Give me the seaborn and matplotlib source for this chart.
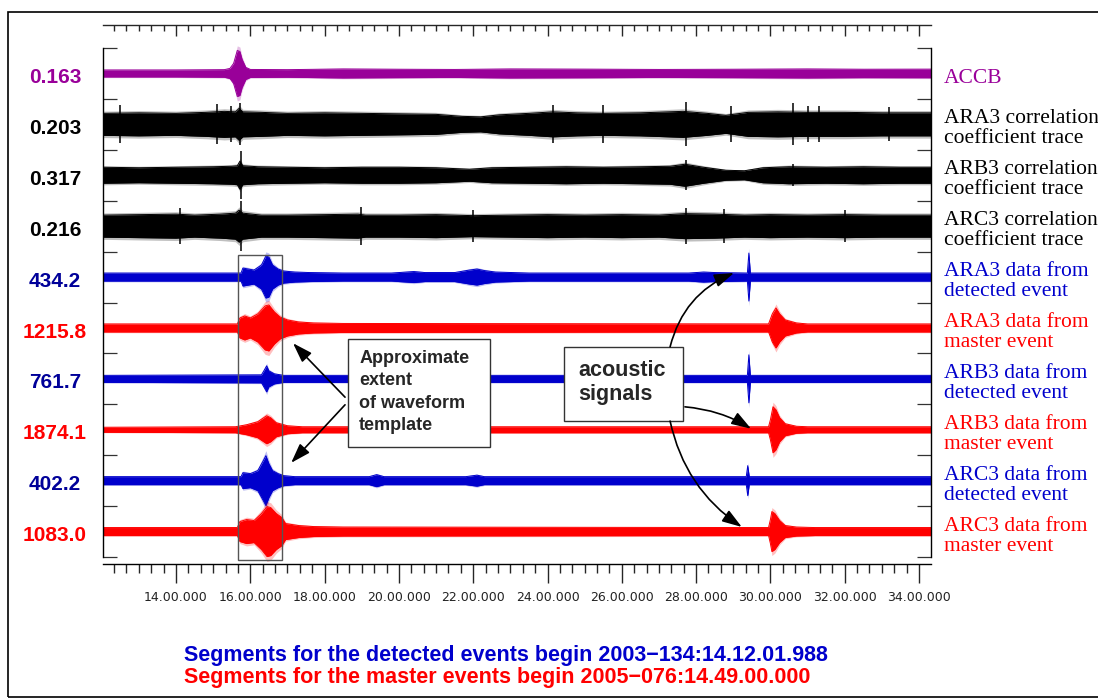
import numpy as np
import matplotlib
matplotlib.use("Agg")
import matplotlib.pyplot as plt
import matplotlib.transforms as mtransforms
from matplotlib.patches import Rectangle
import seaborn as sns

# ---------------------------------------------------------------------------
# Data: time in minutes past the hour, envelope half-amplitudes in display units
# ---------------------------------------------------------------------------
t_start, t_end = 12.035, 34.323

accb_t = [t_start, 14.0, 15.3, 15.45, 15.55, 15.65, 15.72, 15.78, 15.88, 16.0, 17.0, 18.5,
          20.0, 21.5, 23.0, 25.0, 27.0, 29.0, 31.0, 32.5, t_end]
accb_a = [3.5, 3.5, 3.8, 5.0, 10.0, 23.0, 22.0, 14.0, 6.0, 4.0, 3.8, 4.5,
          4.2, 4.0, 4.5, 4.3, 4.0, 4.2, 4.5, 4.2, 4.3]

ara3c_t = [t_start, 13.0, 14.0, 14.8, 15.3, 15.6, 15.7, 15.8, 16.3, 17.0, 18.0, 19.0, 20.0,
           21.0, 21.7, 22.2, 22.7, 23.5, 24.15, 24.8, 25.5, 26.5, 27.65, 28.3, 28.8, 29.4,
           30.2, 31.0, 32.0, 33.0, t_end]
ara3c_a = [11.0, 11.5, 11.0, 12.0, 13.0, 12.5, 16.0, 12.5, 12.0, 11.0, 11.5, 11.0, 10.5,
           10.0, 8.0, 7.5, 9.5, 11.0, 12.5, 11.5, 11.0, 11.5, 13.0, 11.0, 9.0, 12.0,
           12.5, 12.0, 12.0, 11.5, 11.5]
ara3c_spike_t = [12.5, 15.1, 15.47, 15.72, 24.15, 25.5, 27.73, 28.95, 30.6, 31.0, 31.3, 33.2]
ara3c_spike_a = [19.0, 20.0, 18.0, 21.0, 19.0, 19.0, 22.0, 18.0, 21.0, 18.0, 18.0, 17.0]

arb3c_t = [t_start, 13.0, 14.0, 15.0, 15.5, 15.65, 15.72, 15.8, 16.2, 17.0, 18.0, 19.0, 20.0,
           21.0, 21.9, 22.5, 23.5, 24.5, 25.5, 26.5, 27.3, 27.7, 28.2, 28.8, 29.3, 29.8,
           30.5, 31.5, 32.5, 33.5, t_end]
arb3c_a = [8.0, 7.5, 8.0, 8.5, 9.0, 9.5, 14.0, 9.5, 8.5, 8.0, 7.5, 8.0, 8.0,
           7.5, 6.0, 7.5, 8.0, 8.5, 8.0, 8.5, 9.0, 11.0, 8.0, 5.0, 4.5, 7.5,
           8.5, 8.0, 8.5, 8.0, 8.0]
arb3c_spike_t = [15.75, 27.73, 30.6]
arb3c_spike_a = [24.0, 15.0, 11.0]

arc3c_t = [t_start, 13.0, 14.0, 14.5, 15.2, 15.6, 15.7, 15.8, 16.3, 17.0, 18.0, 18.9, 19.1,
           20.0, 21.0, 22.0, 23.0, 24.0, 25.0, 26.0, 27.0, 27.7, 28.5, 29.3, 30.0, 31.0,
           32.0, 33.0, t_end]
arc3c_a = [11.0, 11.5, 12.0, 11.0, 12.0, 13.0, 16.0, 13.0, 11.0, 11.0, 11.5, 12.0, 11.0,
           11.0, 11.5, 10.5, 11.0, 11.5, 11.0, 11.5, 11.0, 12.5, 12.0, 11.0, 11.5, 11.0,
           11.5, 11.0, 11.0]
arc3c_spike_t = [14.1, 15.75, 18.98, 22.0, 27.73, 28.75, 32.0]
arc3c_spike_a = [18.0, 25.0, 19.0, 16.0, 18.0, 17.0, 16.0]

ara3d_t = [t_start, 15.75, 15.8, 15.95, 16.1, 16.3, 16.42, 16.5, 16.6, 16.75, 16.9, 17.2,
           17.6, 18.5, 19.8, 20.4, 20.7, 21.5, 21.9, 22.1, 22.3, 22.6, 23.5, 27.8, 28.2,
           28.5, 29.38, 29.42, 29.46, t_end]
ara3d_a = [4.0, 4.0, 9.0, 8.0, 7.0, 12.0, 21.0, 20.0, 12.0, 8.0, 6.0, 5.0,
           4.5, 4.0, 4.0, 5.5, 4.5, 4.5, 7.0, 8.0, 6.5, 5.0, 4.0, 4.0, 5.0,
           4.5, 4.0, 24.0, 4.0, 4.0]

ara3m_t = [t_start, 15.65, 15.72, 15.85, 16.0, 16.2, 16.4, 16.5, 16.65, 16.8, 17.0, 17.3,
           17.7, 18.5, 29.95, 30.05, 30.15, 30.25, 30.4, 30.7, 31.0, t_end]
ara3m_a = [4.0, 4.0, 10.0, 12.0, 10.0, 14.0, 22.0, 23.0, 16.0, 11.0, 8.0, 6.0,
           5.0, 4.5, 4.0, 14.0, 20.0, 14.0, 8.0, 5.0, 4.0, 4.0]

arb3d_t = [t_start, 16.3, 16.38, 16.44, 16.5, 16.65, 16.9, 29.38, 29.42, 29.46, t_end]
arb3d_a = [3.5, 4.0, 9.0, 13.0, 8.0, 5.0, 3.5, 3.5, 24.0, 3.5, 3.5]

arb3m_t = [t_start, 15.6, 15.9, 16.2, 16.44, 16.55, 16.7, 17.0, 17.4, 29.95, 30.0, 30.07,
           30.15, 30.25, 30.4, 30.7, 31.0, t_end]
arb3m_a = [2.5, 3.0, 5.0, 8.0, 14.0, 12.0, 7.0, 4.0, 3.0, 3.0, 10.0, 23.0,
           20.0, 12.0, 6.0, 3.5, 3.0, 3.0]

arc3d_t = [t_start, 15.75, 15.8, 16.0, 16.2, 16.35, 16.42, 16.5, 16.6, 16.75, 16.9, 17.2,
           19.2, 19.4, 19.6, 21.8, 22.1, 22.3, 29.35, 29.39, 29.43, t_end]
arc3d_a = [4.0, 4.0, 8.0, 7.0, 10.0, 20.0, 25.0, 17.0, 10.0, 7.0, 5.0, 4.0,
           4.0, 6.0, 4.0, 4.0, 5.5, 4.0, 4.0, 15.0, 4.0, 4.0]

arc3m_t = [t_start, 15.65, 15.72, 15.9, 16.1, 16.3, 16.45, 16.55, 16.7, 16.85, 16.95, 17.3,
           17.7, 18.5, 29.95, 30.0, 30.04, 30.12, 30.25, 30.4, 30.7, 31.2, t_end]
arc3m_a = [4.0, 4.0, 10.0, 12.0, 11.0, 18.0, 25.0, 24.0, 18.0, 14.0, 8.0, 6.0,
           5.0, 4.5, 4.0, 12.0, 20.0, 18.0, 11.0, 6.0, 4.5, 4.0, 4.0]

trace_times = [accb_t, ara3c_t, arb3c_t, arc3c_t, ara3d_t, ara3m_t, arb3d_t, arb3m_t,
               arc3d_t, arc3m_t]
trace_amps = [accb_a, ara3c_a, arb3c_a, arc3c_a, ara3d_a, ara3m_a, arb3d_a, arb3m_a,
              arc3d_a, arc3m_a]
# isolated excursions on the correlation traces (row index -> times, half-amplitudes)
spike_rows = {1: (ara3c_spike_t, ara3c_spike_a),
              2: (arb3c_spike_t, arb3c_spike_a),
              3: (arc3c_spike_t, arc3c_spike_a)}

peak_values = ["0.163", "0.203", "0.317", "0.216", "434.2", "1215.8", "761.7", "1874.1",
               "402.2", "1083.0"]
trace_names = ["ACCB",
               "ARA3 correlation\ncoefficient trace",
               "ARB3 correlation\ncoefficient trace",
               "ARC3 correlation\ncoefficient trace",
               "ARA3 data from\ndetected event",
               "ARA3 data from\nmaster event",
               "ARB3 data from\ndetected event",
               "ARB3 data from\nmaster event",
               "ARC3 data from\ndetected event",
               "ARC3 data from\nmaster event"]

major_ticks = [14, 16, 18, 20, 22, 24, 26, 28, 30, 32, 34]
tick_labels = ["14.00.000", "16.00.000", "18.00.000", "20.00.000", "22.00.000",
               "24.00.000", "26.00.000", "28.00.000", "30.00.000", "32.00.000",
               "34.00.000"]

detected_start = "Segments for the detected events begin 2003\u2212134:14.12.01.988"
master_start = "Segments for the master events begin 2005\u2212076:14.49.00.000"

# ---------------------------------------------------------------------------
# Styling
# ---------------------------------------------------------------------------
PURPLE, BLACK, BLUE, RED = "#990099", "#000000", "#0000CC", "#FF0000"
trace_colors = [PURPLE, BLACK, BLACK, BLACK, BLUE, RED, BLUE, RED, BLUE, RED]
value_colors = [PURPLE, BLACK, BLACK, BLACK, "#000099", RED, "#000099", RED, "#000099", RED]
AMP_PER_ROW = 50.9

sns.set_style("white")
plt.rcParams["font.family"] = ["Liberation Sans", "DejaVu Sans"]

W, H = 1098, 698
fig = plt.figure(figsize=(W / 100, H / 100), dpi=100)
fig.patch.set_facecolor("white")


def fx(px):
    return px / W


def fy(py):
    return 1 - py / H


ax = fig.add_axes([fx(103), fy(564), fx(931) - fx(103), fy(25) - fy(564)])
ax.set_facecolor("white")

# seismogram traces as filled envelopes, one row each
for i, (tt, aa, col) in enumerate(zip(trace_times, trace_amps, trace_colors)):
    centre = i + 0.5
    tt = np.asarray(tt, dtype=float)
    aa = np.asarray(aa, dtype=float) / AMP_PER_ROW
    # soft fringe around the dense oscillation
    ax.fill_between(tt, centre - aa * 1.2, centre + aa * 1.2, color=col, alpha=0.25,
                    lw=0, zorder=2)
    ax.fill_between(tt, centre - aa, centre + aa, color=col, lw=0, zorder=2)
    sns.lineplot(x=tt, y=centre - aa, ax=ax, color=col, lw=0.7, zorder=2)
    sns.lineplot(x=tt, y=centre + aa, ax=ax, color=col, lw=0.7, zorder=2)
    if i in spike_rows:
        st, sa = spike_rows[i]
        sa = np.asarray(sa, dtype=float) / AMP_PER_ROW
        ax.vlines(st, centre - sa, centre + sa, color=col, lw=1.1, zorder=2)

ax.set_xlabel("")
ax.set_ylabel("")

# frame: rulers at top and bottom, row separators on the sides
for s in ["left", "right", "bottom"]:
    ax.spines[s].set_color("black")
    ax.spines[s].set_linewidth(1.0)
    ax.spines[s].set_zorder(3)
ax.spines["top"].set_visible(False)
ax.spines["left"].set_bounds(0, 10)
ax.spines["right"].set_bounds(0, 10)

ax.set_yticks(np.arange(0, 11))
ax.tick_params(axis="y", which="major", left=True, right=True, direction="in",
               length=10, width=0.9, labelleft=False, labelright=False, color="#333333")

minor_ticks = np.arange(12 + 1 / 3, 34.3, 1 / 3)
ax.set_xticks(major_ticks)
ax.set_xticklabels(tick_labels)
ax.set_xticks(minor_ticks, minor=True)
ax.tick_params(axis="x", which="major", bottom=True, direction="out", length=13.5,
               width=1.0, pad=6, labelsize=9, labelcolor="#222222")
ax.tick_params(axis="x", which="minor", bottom=True, direction="out", length=6.5,
               width=1.0)
for lab in ax.get_xticklabels():
    lab.set_family("DejaVu Sans")

ax_top = ax.twiny()
for s in ["left", "right", "bottom"]:
    ax_top.spines[s].set_visible(False)
ax_top.spines["top"].set_linewidth(1.0)
ax_top.set_xticks(major_ticks)
ax_top.set_xticks(minor_ticks, minor=True)
ax_top.tick_params(axis="x", which="major", top=True, direction="in", length=8,
                   width=1.0, labeltop=False)
ax_top.tick_params(axis="x", which="minor", top=True, direction="in", length=4.3,
                   width=1.0)

ax.set_xlim(t_start, t_end)
ax_top.set_xlim(t_start, t_end)
ax.set_ylim(10 + 7 / AMP_PER_ROW, -23 / AMP_PER_ROW)

# row annotations
left_tf = mtransforms.blended_transform_factory(fig.transFigure, ax.transData)
for i, (val, col) in enumerate(zip(peak_values, value_colors)):
    fig.text(fx(55), i + 0.58, val, transform=left_tf, ha="center", va="center",
             fontsize=15, fontweight="bold", color=col)
for i, (name, col) in enumerate(zip(trace_names, trace_colors)):
    fig.text(fx(944), i + 0.59, name, transform=left_tf, ha="left", va="center",
             fontsize=15.5, color=col, family="Liberation Serif", linespacing=1.08)

# waveform template extent
ax.add_patch(Rectangle((15.66, 4.07), 16.85 - 15.66, 10.06 - 4.07, fill=False,
                       ec="#555555", lw=1.0, zorder=4))

arrow_kw = dict(arrowstyle="-|>,head_length=0.6,head_width=0.2", color="black",
                lw=1.2, shrinkA=0, shrinkB=0, mutation_scale=20)

ax.add_patch(Rectangle((18.63, 5.72), 22.45 - 18.63, 7.84 - 5.72, fc="white",
                       ec="#333333", lw=1.0, zorder=5))
ax.text(18.93, 6.76, "Approximate\nextent\nof waveform\ntemplate", ha="left",
        va="center", fontsize=13, fontweight="bold", linespacing=1.42, zorder=6)
ax.annotate("", xy=(17.15, 5.80), xytext=(18.55, 6.86),
            arrowprops=dict(arrow_kw, connectionstyle="arc3,rad=0"), zorder=6)
ax.annotate("", xy=(17.10, 8.15), xytext=(18.55, 7.01),
            arrowprops=dict(arrow_kw, connectionstyle="arc3,rad=0"), zorder=6)

ax.add_patch(Rectangle((24.44, 5.87), 27.65 - 24.44, 7.33 - 5.87, fc="white",
                       ec="#333333", lw=1.0, zorder=5))
ax.text(24.82, 6.57, "acoustic\nsignals", ha="left", va="center", fontsize=15.5,
        fontweight="bold", linespacing=1.22, zorder=6)
ax.annotate("", xy=(29.02, 4.42), xytext=(27.30, 5.87),
            arrowprops=dict(arrow_kw, connectionstyle="arc3,rad=-0.25"), zorder=6)
ax.annotate("", xy=(29.48, 7.48), xytext=(27.70, 7.05),
            arrowprops=dict(arrow_kw, connectionstyle="arc3,rad=-0.12"), zorder=6)
ax.annotate("", xy=(29.23, 9.41), xytext=(27.30, 7.33),
            arrowprops=dict(arrow_kw, connectionstyle="arc3,rad=0.2"), zorder=6)

# segment start times
fig.text(fx(184), fy(655), detected_start, ha="left", va="center", fontsize=15.5,
         fontweight="bold", color="#0000CC")
fig.text(fx(184), fy(678), master_start, ha="left", va="center", fontsize=15.5,
         fontweight="bold", color="#FF0000")

# page frame
fig.patches.append(Rectangle((fx(8), fy(697)), 1.2, fy(12) - fy(697),
                             transform=fig.transFigure, fill=False, ec="black",
                             lw=1.2, zorder=0))

fig.savefig("out.png", dpi=100)
